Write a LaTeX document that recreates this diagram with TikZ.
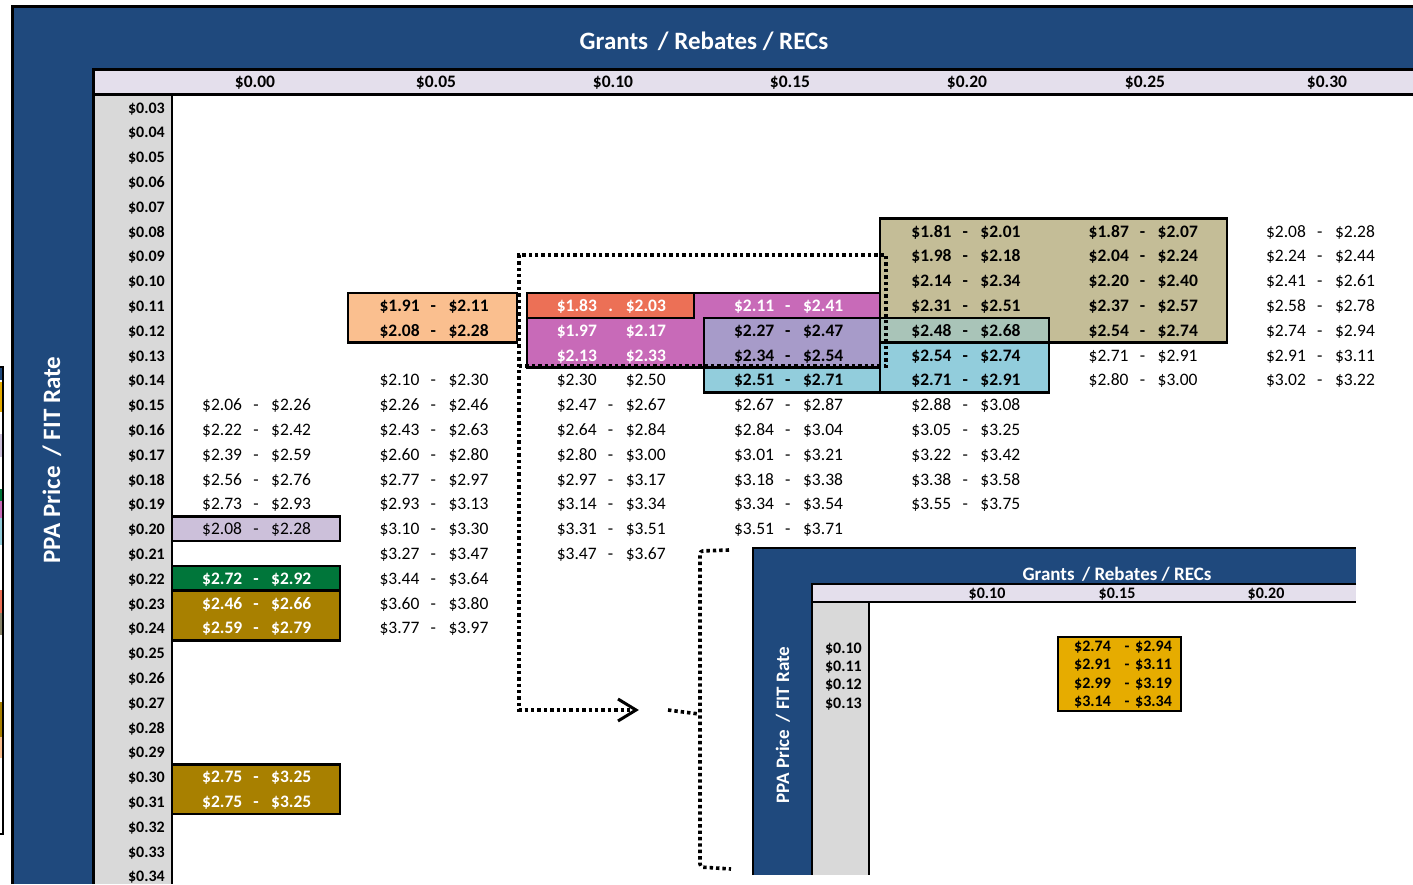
\documentclass[tikz,border=0pt]{standalone}
\usepackage{fontspec}
\setmainfont{Carlito}
\usetikzlibrary{arrows.meta}
\definecolor{navy}{RGB}{31,73,125}
\definecolor{hdr}{RGB}{228,223,236}
\definecolor{gcol}{RGB}{217,217,217}
\definecolor{peach}{RGB}{250,191,143}
\definecolor{redb}{RGB}{236,112,86}
\definecolor{magb}{RGB}{200,106,184}
\definecolor{purb}{RGB}{167,155,201}
\definecolor{lblue}{RGB}{146,205,220}
\definecolor{teal}{RGB}{169,196,184}
\definecolor{khaki}{RGB}{196,189,151}
\definecolor{lavb}{RGB}{204,192,218}
\definecolor{greenb}{RGB}{0,118,58}
\definecolor{goldd}{RGB}{168,128,0}
\definecolor{goldi}{RGB}{230,172,0}
\tikzset{
  val/.style={inner sep=0pt, font=\fontsize{17.5}{20}\selectfont, anchor=base west},
  bb/.style={font=\fontsize{17.5}{20}\selectfont\bfseries},
  wh/.style={text=white},
  rowlab/.style={inner sep=0pt, anchor=base east, font=\fontsize{16}{18}\selectfont\bfseries},
  colhd/.style={inner sep=0pt, anchor=base, font=\fontsize{17.5}{20}\selectfont\bfseries},
  ttl/.style={inner sep=0pt, text=white, font=\fontsize{25}{28}\selectfont\bfseries},
  ittl/.style={inner sep=0pt, text=white, font=\fontsize{19}{22}\selectfont\bfseries},
  ilab/.style={inner sep=0pt, font=\fontsize{16}{18}\selectfont\bfseries},
  boxline/.style={draw=black, line width=2.6pt},
  dots/.style={line width=3.6pt, dash pattern=on 3.4pt off 3pt},
}
% \pc[style]{col}{row}{left}{sep}{right}
\newcommand{\pc}[6][]{%
  \node[val,#1] (v#2-#3l) at ({202+177.3*#2},{113+24.8*(#3-3)}) {\$#4};
  \node[val,#1,anchor=base] (v#2-#3s) at ({256+177.3*#2},{113+24.8*(#3-3)}) {#5};
  \node[val,#1] (v#2-#3r) at ({271+177.3*#2},{113+24.8*(#3-3)}) {\$#6};}
\begin{document}
\begin{tikzpicture}[x=1pt,y=-1pt]
\useasboundingbox (0,0) rectangle (1413,884);
\fill[white] (0,0) rectangle (1413,884);
% left cut-off legend strip
\fill[navy] (0,368) rectangle (2.5,380);
\fill[goldi] (0,382) rectangle (2.5,412);
\fill[lavb] (0,434) rectangle (2.5,457);
\fill[greenb] (0,489) rectangle (2.5,501);
\fill[magb] (0,501) rectangle (2.5,518);
\fill[lblue] (0,518) rectangle (2.5,545);
\fill[redb] (0,590) rectangle (2.5,613);
\fill[khaki!70!black] (0,613) rectangle (2.5,635);
\fill[goldd] (0,702) rectangle (2.5,737);
\fill[peach] (0,737) rectangle (2.5,758);
\draw[line width=1.5pt] (0,367) -- (3,367) -- (3,834) -- (0,834);
% main frame
\fill[navy] (12,6) rectangle (1413,884);
\fill[hdr] (93,69) rectangle (1413,94);
\fill[gcol] (93,94) rectangle (172,884);
\fill[white] (172,94) rectangle (1413,884);
\draw[line width=3pt] (12,884) -- (12,6) -- (1413,6);
\draw[line width=3pt] (1413,69) -- (93,69) -- (93,884);
\draw[line width=3pt] (93,94) -- (1413,94);
\draw[line width=1.5pt] (172,94) -- (172,884);
\node[ttl] (title) at (704,41) {Grants\, / Rebates / RECs};
\node[ttl,rotate=90] (ppa) at (52,460) {PPA Price\, / FIT Rate};
\foreach \x/\t [count=\i] in {255/0.00,436/0.05,613/0.10,790/0.15,967/0.20,1145/0.25,1327/0.30}
  \node[colhd] (col\i) at (\x,87) {\$\t};
\foreach \r in {3,...,34}
  \node[rowlab] (row\r) at (165,{113+24.8*(\r-3)}) {\$0.\ifnum\r<10 0\fi\r};
% coloured boxes
\fill[peach] (348,293) rectangle (517,342.6);
\draw[boxline] (348,293) rectangle (517,342.6);
\fill[magb] (527,293) rectangle (880,367.4);
\fill[redb] (527,293) rectangle (694,317.8);
\fill[purb] (704,317.8) rectangle (880,367.4);
\fill[khaki] (880,218.6) rectangle (1227,342.6);
\fill[lblue] (704,367.4) rectangle (1049,392.2);
\fill[lblue] (880,342.6) rectangle (1049,367.4);
\fill[teal] (880,317.8) rectangle (1049,342.6);
\draw[boxline] (527,293) rectangle (880,367.4);
\draw[boxline] (527,293) rectangle (694,317.8);
\draw[boxline] (704,317.8) rectangle (880,367.4);
\draw[boxline] (880,218.6) rectangle (1227,342.6);
\draw[boxline] (880,317.8) rectangle (1049,392.2);
\draw[boxline] (704,367.4) -- (704,392.2) -- (880,392.2);
\fill[lavb] (172,516.2) rectangle (340,541);
\draw[boxline] (172,516.2) rectangle (340,541);
\fill[greenb] (172,565.8) rectangle (340,590.6);
\draw[boxline] (172,565.8) rectangle (340,590.6);
\fill[goldd] (172,590.6) rectangle (340,640.2);
\draw[boxline] (172,590.6) rectangle (340,640.2);
\fill[goldd] (172,764.2) rectangle (340,813.8);
\draw[boxline] (172,764.2) rectangle (340,813.8);
% dotted selection and arrow
\coordinate (d1) at (886,366);
\coordinate (d2) at (886,255);
\coordinate (d3) at (519,255);
\coordinate (d4) at (519,710);
\coordinate (d5) at (636,710);
\coordinate (d6) at (519,366);
\draw[dots] (d6) -- (d1) -- (d2) -- (d3) -- (d4) -- (d5);
\draw[line width=3pt] (618,699) -- (d5) -- (618,721);
% brace
\coordinate (b1) at (729,550);
\coordinate (b2) at (700,551);
\coordinate (b3) at (700,867);
\coordinate (b4) at (731,869);
\coordinate (b5) at (668,710);
\coordinate (b6) at (699,714);
\draw[dots,rounded corners=3pt] (b1) -- (b2) -- (b3) -- (b4);
\draw[dots] (b5) -- (b6);
% values
\pc{0}{15}{2.06}{-}{2.26}
\pc{0}{16}{2.22}{-}{2.42}
\pc{0}{17}{2.39}{-}{2.59}
\pc{0}{18}{2.56}{-}{2.76}
\pc{0}{19}{2.73}{-}{2.93}
\pc{0}{20}{2.08}{-}{2.28}
\pc[bb,wh]{0}{22}{2.72}{-}{2.92}
\pc[bb,wh]{0}{23}{2.46}{-}{2.66}
\pc[bb,wh]{0}{24}{2.59}{-}{2.79}
\pc[bb,wh]{0}{30}{2.75}{-}{3.25}
\pc[bb,wh]{0}{31}{2.75}{-}{3.25}
\pc[bb]{1}{11}{1.91}{-}{2.11}
\pc[bb]{1}{12}{2.08}{-}{2.28}
\pc{1}{14}{2.10}{-}{2.30}
\pc{1}{15}{2.26}{-}{2.46}
\pc{1}{16}{2.43}{-}{2.63}
\pc{1}{17}{2.60}{-}{2.80}
\pc{1}{18}{2.77}{-}{2.97}
\pc{1}{19}{2.93}{-}{3.13}
\pc{1}{20}{3.10}{-}{3.30}
\pc{1}{21}{3.27}{-}{3.47}
\pc{1}{22}{3.44}{-}{3.64}
\pc{1}{23}{3.60}{-}{3.80}
\pc{1}{24}{3.77}{-}{3.97}
\pc[bb,wh]{2}{11}{1.83}{.}{2.03}
\pc[bb,wh]{2}{12}{1.97}{}{2.17}
\pc[bb,wh]{2}{13}{2.13}{}{2.33}
\pc{2}{14}{2.30}{}{2.50}
\pc{2}{15}{2.47}{-}{2.67}
\pc{2}{16}{2.64}{-}{2.84}
\pc{2}{17}{2.80}{-}{3.00}
\pc{2}{18}{2.97}{-}{3.17}
\pc{2}{19}{3.14}{-}{3.34}
\pc{2}{20}{3.31}{-}{3.51}
\pc{2}{21}{3.47}{-}{3.67}
\pc[bb,wh]{3}{11}{2.11}{-}{2.41}
\pc[bb]{3}{12}{2.27}{-}{2.47}
\pc[bb]{3}{13}{2.34}{-}{2.54}
\pc[bb]{3}{14}{2.51}{-}{2.71}
\pc{3}{15}{2.67}{-}{2.87}
\pc{3}{16}{2.84}{-}{3.04}
\pc{3}{17}{3.01}{-}{3.21}
\pc{3}{18}{3.18}{-}{3.38}
\pc{3}{19}{3.34}{-}{3.54}
\pc{3}{20}{3.51}{-}{3.71}
\pc[bb]{4}{8}{1.81}{-}{2.01}
\pc[bb]{4}{9}{1.98}{-}{2.18}
\pc[bb]{4}{10}{2.14}{-}{2.34}
\pc[bb]{4}{11}{2.31}{-}{2.51}
\pc[bb]{4}{12}{2.48}{-}{2.68}
\pc[bb]{4}{13}{2.54}{-}{2.74}
\pc[bb]{4}{14}{2.71}{-}{2.91}
\pc{4}{15}{2.88}{-}{3.08}
\pc{4}{16}{3.05}{-}{3.25}
\pc{4}{17}{3.22}{-}{3.42}
\pc{4}{18}{3.38}{-}{3.58}
\pc{4}{19}{3.55}{-}{3.75}
\pc[bb]{5}{8}{1.87}{-}{2.07}
\pc[bb]{5}{9}{2.04}{-}{2.24}
\pc[bb]{5}{10}{2.20}{-}{2.40}
\pc[bb]{5}{11}{2.37}{-}{2.57}
\pc[bb]{5}{12}{2.54}{-}{2.74}
\pc{5}{13}{2.71}{-}{2.91}
\pc{5}{14}{2.80}{-}{3.00}
\pc{6}{8}{2.08}{-}{2.28}
\pc{6}{9}{2.24}{-}{2.44}
\pc{6}{10}{2.41}{-}{2.61}
\pc{6}{11}{2.58}{-}{2.78}
\pc{6}{12}{2.74}{-}{2.94}
\pc{6}{13}{2.91}{-}{3.11}
\pc{6}{14}{3.02}{-}{3.22}
% inset
\fill[navy] (753,548) rectangle (1356,875);
\fill[hdr] (812,584) rectangle (1356,602);
\fill[gcol] (812,602) rectangle (869,875);
\fill[white] (869,602) rectangle (1356,875);
\draw[line width=2pt] (753,875) -- (753,548) -- (1356,548);
\draw[line width=1.5pt] (1356,584) -- (812,584) -- (812,875);
\draw[line width=1.5pt] (812,602) -- (1356,602);
\draw[line width=1.5pt] (869,602) -- (869,875);
\node[ittl] (ititle) at (1117,574) {Grants\, / Rebates / RECs};
\node[ittl,rotate=90] (ippa) at (783,725) {PPA Price\, / FIT Rate};
\foreach \x/\t [count=\i] in {987/0.10,1117/0.15,1266/0.20}
  \node[ilab,anchor=base] (icol\i) at (\x,598) {\$\t};
\foreach \y/\t [count=\i] in {653/0.10,671/0.11,689/0.12,708/0.13}
  \node[ilab,anchor=base east] (irow\i) at (862,\y) {\$\t};
\fill[goldi] (1058,637) rectangle (1181,711);
\draw[line width=2.5pt] (1058,637) rectangle (1181,711);
\foreach \y/\a/\b [count=\i] in {651/2.74/2.94,669/2.91/3.11,688/2.99/3.19,706/3.14/3.34}{
  \node[ilab,anchor=base west] (ig\i l) at (1074,\y) {\$\a};
  \node[ilab,anchor=base] (ig\i s) at (1127,\y) {-};
  \node[ilab,anchor=base west] (ig\i r) at (1135,\y) {\$\b};
}
\end{tikzpicture}
\end{document}
